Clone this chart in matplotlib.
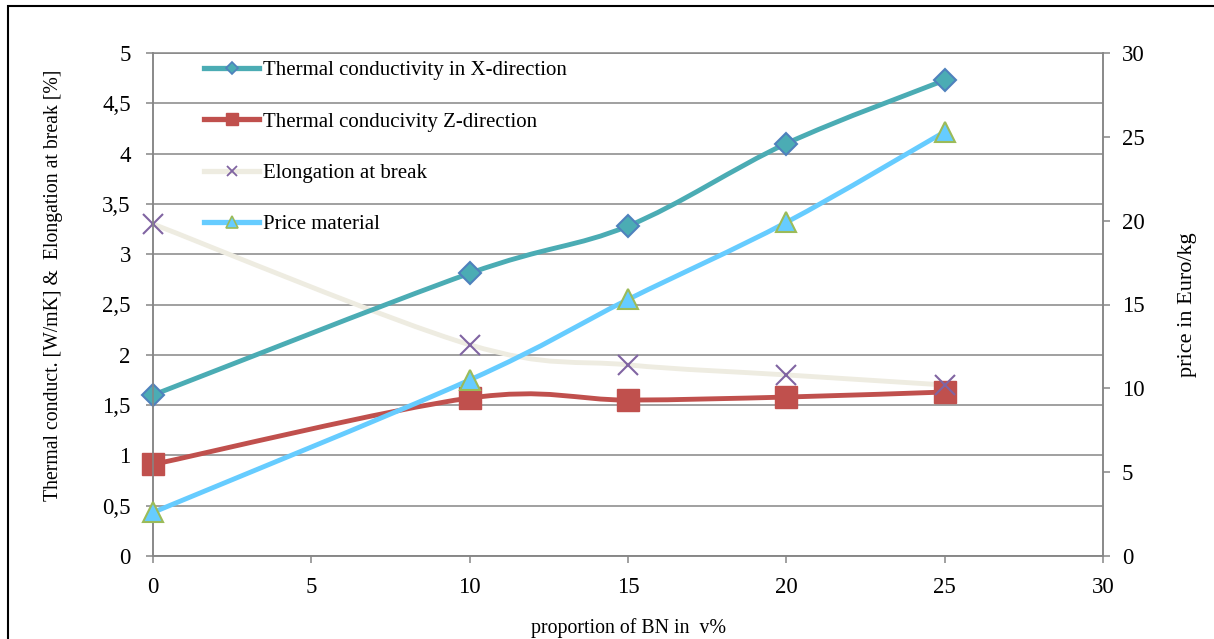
import numpy as np
import matplotlib
matplotlib.use('Agg')
import matplotlib.pyplot as plt
from matplotlib.path import Path
from matplotlib.patches import PathPatch, Rectangle
from matplotlib.lines import Line2D
from matplotlib.ticker import FuncFormatter, MultipleLocator

# Data
bn_share = [0, 10, 15, 20, 25]
k_x = [1.6, 2.81, 3.28, 4.1, 4.73]
k_z = [0.91, 1.57, 1.55, 1.58, 1.63]
elongation = [3.3, 2.1, 1.9, 1.8, 1.7]
price = [2.6, 10.5, 15.3, 19.9, 25.3]

labels = ['Thermal conductivity in X-direction',
          'Thermal conducivity Z-direction',
          'Elongation at break',
          'Price material']

plt.rcParams['font.family'] = ['Liberation Serif', 'DejaVu Serif']

GRID = '#868686'
TEAL = '#4BACB4'
BLUE = '#4F81BD'
RED = '#C0504D'
BEIGE = '#EEECE1'
PURPLE = '#8064A2'
SKY = '#66CCFF'
GREEN = '#9BBB59'


def smooth_path(x, y):
    """Excel-like smoothed line as cubic bezier (Catmull-Rom)"""
    pts = np.column_stack([x, y]).astype(float)
    n = len(pts)
    verts = [pts[0]]
    codes = [Path.MOVETO]
    for i in range(n - 1):
        p0 = pts[i - 1] if i > 0 else pts[i]
        p1 = pts[i]
        p2 = pts[i + 1]
        p3 = pts[i + 2] if i + 2 < n else pts[i + 1]
        c1 = p1 + (p2 - p0) / 6.0
        c2 = p2 - (p3 - p1) / 6.0
        verts += [c1, c2, p2]
        codes += [Path.CURVE4] * 3
    return Path(verts, codes)


def add_line(ax, x, y, color, z):
    patch = PathPatch(smooth_path(x, y), facecolor='none', edgecolor=color,
                      lw=3.5, capstyle='round', joinstyle='round', zorder=z,
                      clip_on=False)
    ax.add_patch(patch)


fig = plt.figure(figsize=(12.14, 6.39), dpi=100)
ax = fig.add_axes([153 / 1214, 1 - 556 / 639, 950 / 1214, 503 / 639])
ax2 = ax.twinx()

ax.set_xlim(0, 30)
ax.set_ylim(0, 5)
ax2.set_ylim(0, 30)

ax.yaxis.set_major_locator(MultipleLocator(0.5))
ax.xaxis.set_major_locator(MultipleLocator(5))
ax2.yaxis.set_major_locator(MultipleLocator(5))
ax.yaxis.set_major_formatter(FuncFormatter(lambda v, p: f'{v:g}'.replace('.', ',')))

ax.grid(axis='y', color=GRID, lw=1.1)
ax.set_axisbelow(True)

for a in (ax, ax2):
    for s in a.spines.values():
        s.set_color(GRID)
        s.set_linewidth(1.1)
    a.tick_params(colors=GRID, labelcolor='black', labelsize=16.5,
                  length=5, width=1.1, direction='out')
ax2.spines['top'].set_visible(False)
ax.tick_params(axis='x', pad=10)
ax.tick_params(axis='y', pad=11)
ax2.tick_params(axis='y', pad=8.5)

# series on left axis
add_line(ax, bn_share, elongation, BEIGE, 2)
add_line(ax, bn_share, k_x, TEAL, 3)
add_line(ax, bn_share, k_z, RED, 4)
ax.plot(bn_share, k_x, ls='none', marker='D', ms=11, mfc=TEAL, mec=BLUE,
        mew=1.5, zorder=5, clip_on=False)
ax.plot(bn_share, k_z, ls='none', marker='s', ms=15.5, mfc=RED, mec=RED,
        zorder=5, clip_on=False)
ax.plot(bn_share, elongation, ls='none', marker='x', ms=14, mew=1.5,
        color=PURPLE, zorder=6, clip_on=False)

# price on right axis
add_line(ax2, bn_share, price, SKY, 3)
ax2.plot(bn_share, price, ls='none', marker='^', ms=15, mfc=SKY, mec=GREEN,
         mew=1.5, zorder=5, clip_on=False)

ax.set_ylabel('Thermal conduct. [W/mK] &  Elongation at break [%]', fontsize=14.2)
ax.yaxis.set_label_coords(-0.095, 0.539)
ax2.set_ylabel('price in Euro/kg', fontsize=16)
ax2.yaxis.set_label_coords(1.079, 0.5)
ax.set_xlabel('proportion of BN in  v%', fontsize=14.3)
ax.xaxis.set_label_coords(0.5, -0.123)

handles = [
    Line2D([], [], color=TEAL, lw=3.8, marker='D', ms=6.5, mfc=TEAL, mec=BLUE, mew=1.2),
    Line2D([], [], color=RED, lw=3.8, marker='s', ms=8, mfc=RED, mec=RED),
    Line2D([], [], color=BEIGE, lw=3.8, marker='x', ms=7.5, mew=1.3, mec=PURPLE),
    Line2D([], [], color=SKY, lw=3.8, marker='^', ms=8, mfc=SKY, mec=GREEN, mew=1.2),
]
leg = ax2.legend(handles, labels, loc='upper left',
                 bbox_to_anchor=(204 / 1214, 1 - 60.5 / 639),
                 bbox_transform=fig.transFigure, frameon=False, fontsize=15,
                 handlelength=2.64, handletextpad=0.2, labelspacing=1.53,
                 borderpad=0, borderaxespad=0)
leg.set_zorder(10)

# outer frame of the chart area
fig.add_artist(Rectangle((8 / 1214, -0.1), 1.2, 0.1 + 633 / 639,
                         transform=fig.transFigure, fill=False,
                         edgecolor='black', lw=1.5))

fig.savefig('out.png', dpi=100)
